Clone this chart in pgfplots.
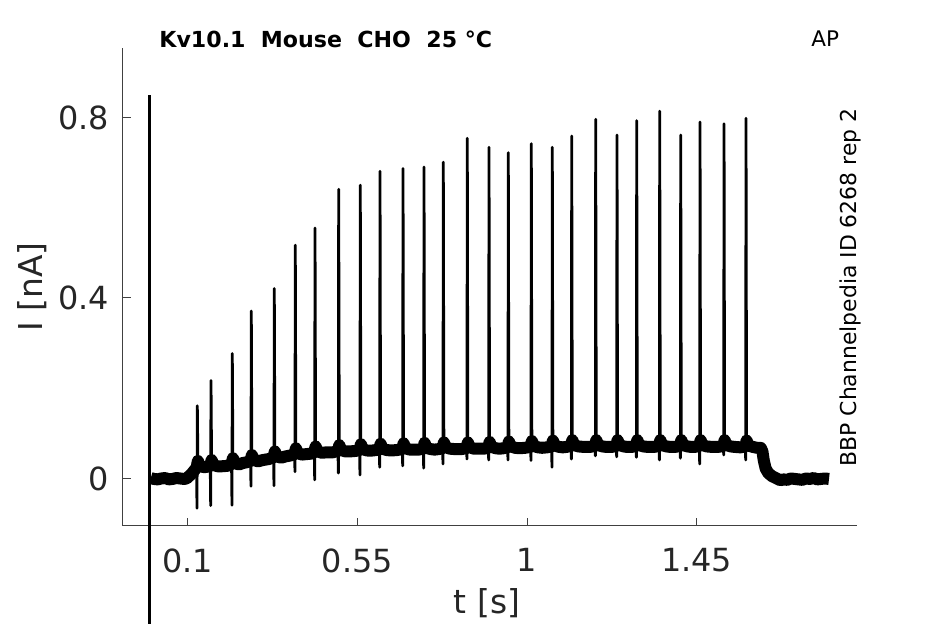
\documentclass[border=0pt]{standalone}
\usepackage{pgfplots}
\pgfplotsset{compat=1.18}
\usepackage{fontspec}
\setmainfont{DejaVu Sans}
\definecolor{axisgray}{HTML}{404040}
\definecolor{ticktext}{HTML}{262626}
\begin{document}
\begin{tikzpicture}
\begin{axis}[
  at={(0,0)}, anchor=south west,
  scale only axis, width=367bp, height=239bp,
  xmin=-0.0724, xmax=1.8745, ymin=-0.1053, ymax=0.954,
  axis x line*=bottom, axis y line*=left,
  axis line style={-, color=axisgray, line width=0.5bp},
  xtick={0.1,0.55,1,1.45}, xticklabels={0.1,0.55,1,1.45},
  ytick={0,0.4,0.8}, yticklabels={0,0.4,0.8},
  tick align=inside, major tick length=4bp,
  tick style={color=axisgray, line width=0.5bp},
  ticklabel style={font=\fontsize{16}{19}\selectfont, text=ticktext, inner sep=0pt},
  xticklabel style={anchor=north, yshift=-11.15bp},
  yticklabel style={anchor=east, xshift=-6.7bp},
  xlabel={t [s]}, ylabel={I [nA]},
  label style={font=\fontsize{16.5}{19}\selectfont, text=ticktext},
  xlabel style={at={(axis description cs:0.4963,-0.1611)}, anchor=center},
  ylabel style={at={(axis description cs:-0.1236,0.5)}, anchor=center},
  clip=false,
]
% stimulus marker line
\addplot[black, line width=1.5bp] coordinates {(0,-0.35) (0,0.85)};
% noisy baseline band
\addplot[black, line width=6bp, line join=round, line cap=butt] coordinates {
(0.002,0.001)(0.01,-0.001)(0.02,-0.002)(0.03,0.0)(0.04,0.001)(0.05,-0.002)(0.06,-0.001)(0.07,0.001)(0.08,0.0)(0.09,-0.001)(0.097,0.0)(0.11,0.010)(0.1235,0.024)
(0.1270,0.039)(0.1305,0.032)(0.1355,0.027)(0.1435,0.025)(0.152,0.026)
(0.1598,0.028)(0.1633,0.041)(0.1668,0.034)(0.1718,0.029)(0.1798,0.027)(0.19,0.027)(0.205,0.028)
(0.2163,0.032)(0.2198,0.045)(0.2233,0.038)(0.2283,0.033)(0.2363,0.031)(0.245,0.034)(0.257,0.036)
(0.2667,0.039)(0.2702,0.052)(0.2737,0.045)(0.2787,0.040)(0.2867,0.038)(0.30,0.041)(0.315,0.043)
(0.3277,0.047)(0.3312,0.060)(0.3347,0.053)(0.3397,0.048)(0.3477,0.046)(0.36,0.049)(0.373,0.051)
(0.3834,0.054)(0.3869,0.067)(0.3904,0.060)(0.3954,0.055)(0.4034,0.053)(0.415,0.054)(0.427,0.055)
(0.4357,0.058)(0.4392,0.071)(0.4427,0.064)(0.4477,0.059)(0.4557,0.057)(0.47,0.058)(0.485,0.058)
(0.4985,0.061)(0.5020,0.074)(0.5055,0.067)(0.5105,0.062)(0.5185,0.060)(0.53,0.060)(0.545,0.061)
(0.5558,0.063)(0.5593,0.076)(0.5628,0.069)(0.5678,0.064)(0.5758,0.062)(0.59,0.062)
(0.6081,0.064)(0.6116,0.077)(0.6151,0.070)(0.6201,0.065)(0.6281,0.063)(0.64,0.062)(0.655,0.063)
(0.6691,0.065)(0.6726,0.078)(0.6761,0.071)(0.6811,0.066)(0.6891,0.064)(0.70,0.064)(0.712,0.064)
(0.7248,0.066)(0.7283,0.079)(0.7318,0.072)(0.7368,0.067)(0.7448,0.065)(0.755,0.064)(0.765,0.065)
(0.7760,0.067)(0.7795,0.080)(0.7830,0.073)(0.7880,0.068)(0.7960,0.066)(0.81,0.065)(0.825,0.065)
(0.8396,0.067)(0.8431,0.080)(0.8466,0.073)(0.8516,0.068)(0.8596,0.066)(0.87,0.066)(0.885,0.066)
(0.8972,0.068)(0.9007,0.081)(0.9042,0.074)(0.9092,0.069)(0.9172,0.067)(0.927,0.066)(0.938,0.067)
(0.9484,0.069)(0.9519,0.082)(0.9554,0.075)(0.9604,0.070)(0.9684,0.068)(0.98,0.067)(0.995,0.068)
(1.0094,0.070)(1.0129,0.083)(1.0164,0.076)(1.0214,0.071)(1.0294,0.069)(1.04,0.068)(1.053,0.069)
(1.0651,0.071)(1.0686,0.084)(1.0721,0.077)(1.0771,0.072)(1.0851,0.070)(1.095,0.069)(1.105,0.070)
(1.1166,0.072)(1.1201,0.085)(1.1236,0.078)(1.1286,0.073)(1.1366,0.071)(1.15,0.070)(1.167,0.070)
(1.1802,0.072)(1.1837,0.085)(1.1872,0.078)(1.1922,0.073)(1.2002,0.071)(1.21,0.070)(1.225,0.070)
(1.2367,0.072)(1.2402,0.085)(1.2437,0.078)(1.2487,0.073)(1.2567,0.071)(1.265,0.070)(1.278,0.070)
(1.2890,0.072)(1.2925,0.085)(1.2960,0.078)(1.3010,0.073)(1.3090,0.071)(1.32,0.070)(1.337,0.070)
(1.3500,0.072)(1.3535,0.085)(1.3570,0.078)(1.3620,0.073)(1.3700,0.071)(1.38,0.070)(1.393,0.070)
(1.4057,0.072)(1.4092,0.085)(1.4127,0.078)(1.4177,0.073)(1.4257,0.071)(1.435,0.070)(1.445,0.070)
(1.4569,0.072)(1.4604,0.085)(1.4639,0.078)(1.4689,0.073)(1.4769,0.071)(1.49,0.070)(1.507,0.070)
(1.5206,0.072)(1.5241,0.085)(1.5276,0.078)(1.5326,0.073)(1.5406,0.071)(1.55,0.070)(1.566,0.069)
(1.5789,0.071)(1.5824,0.084)(1.5859,0.077)(1.5909,0.072)(1.5989,0.070)(1.61,0.068)(1.620,0.068)
(1.6245,0.060)(1.628,0.040)(1.633,0.022)(1.640,0.012)(1.650,0.005)(1.660,0.001)(1.672,-0.004)
(1.68,-0.002)(1.69,-0.003)(1.70,0.0)(1.71,-0.001)(1.72,-0.002)(1.73,-0.003)(1.74,0.0)(1.75,-0.001)(1.76,0.001)(1.77,-0.002)(1.78,-0.001)(1.79,0.0)(1.801,-0.001)
};
% spikes
\addplot[black, line width=1.4bp, line join=round] coordinates {
(0.1235,0.029)(0.1247,-0.066)(0.1255,0.161)(0.1270,0.042)(0.1305,0.032)(0.1355,0.027)
(0.1598,0.031)(0.1610,-0.060)(0.1618,0.217)(0.1633,0.044)(0.1668,0.034)(0.1718,0.029)
(0.2163,0.035)(0.2175,-0.059)(0.2183,0.277)(0.2198,0.048)(0.2233,0.038)(0.2283,0.033)
(0.2667,0.042)(0.2679,-0.017)(0.2687,0.371)(0.2702,0.055)(0.2737,0.045)(0.2787,0.040)
(0.3277,0.050)(0.3289,-0.016)(0.3297,0.421)(0.3312,0.063)(0.3347,0.053)(0.3397,0.048)
(0.3834,0.057)(0.3846,0.015)(0.3854,0.517)(0.3869,0.070)(0.3904,0.060)(0.3954,0.055)
(0.4357,0.061)(0.4369,-0.003)(0.4377,0.555)(0.4392,0.074)(0.4427,0.064)(0.4477,0.059)
(0.4985,0.064)(0.4997,0.012)(0.5005,0.641)(0.5020,0.077)(0.5055,0.067)(0.5105,0.062)
(0.5558,0.066)(0.5570,0.008)(0.5578,0.650)(0.5593,0.079)(0.5628,0.069)(0.5678,0.064)
(0.6081,0.067)(0.6093,0.025)(0.6101,0.681)(0.6116,0.080)(0.6151,0.070)(0.6201,0.065)
(0.6691,0.068)(0.6703,0.028)(0.6711,0.687)(0.6726,0.081)(0.6761,0.071)(0.6811,0.066)
(0.7248,0.069)(0.7260,0.023)(0.7268,0.690)(0.7283,0.082)(0.7318,0.072)(0.7368,0.067)
(0.7760,0.070)(0.7772,0.032)(0.7780,0.701)(0.7795,0.083)(0.7830,0.073)(0.7880,0.068)
(0.8396,0.070)(0.8408,0.043)(0.8416,0.754)(0.8431,0.083)(0.8466,0.073)(0.8516,0.068)
(0.8972,0.071)(0.8984,0.041)(0.8992,0.734)(0.9007,0.084)(0.9042,0.074)(0.9092,0.069)
(0.9484,0.072)(0.9496,0.041)(0.9504,0.722)(0.9519,0.085)(0.9554,0.075)(0.9604,0.070)
(1.0094,0.073)(1.0106,0.040)(1.0114,0.742)(1.0129,0.086)(1.0164,0.076)(1.0214,0.071)
(1.0651,0.074)(1.0663,0.025)(1.0671,0.734)(1.0686,0.087)(1.0721,0.077)(1.0771,0.072)
(1.1166,0.075)(1.1178,0.043)(1.1186,0.759)(1.1201,0.088)(1.1236,0.078)(1.1286,0.073)
(1.1802,0.075)(1.1814,0.050)(1.1822,0.796)(1.1837,0.088)(1.1872,0.078)(1.1922,0.073)
(1.2367,0.075)(1.2379,0.048)(1.2387,0.761)(1.2402,0.088)(1.2437,0.078)(1.2487,0.073)
(1.2890,0.075)(1.2902,0.047)(1.2910,0.793)(1.2925,0.088)(1.2960,0.078)(1.3010,0.073)
(1.3500,0.075)(1.3512,0.041)(1.3520,0.814)(1.3535,0.088)(1.3570,0.078)(1.3620,0.073)
(1.4057,0.075)(1.4069,0.045)(1.4077,0.761)(1.4092,0.088)(1.4127,0.078)(1.4177,0.073)
(1.4569,0.075)(1.4581,0.032)(1.4589,0.790)(1.4604,0.088)(1.4639,0.078)(1.4689,0.073)
(1.5206,0.075)(1.5218,0.052)(1.5226,0.786)(1.5241,0.088)(1.5276,0.078)(1.5326,0.073)
(1.5789,0.074)(1.5801,0.041)(1.5809,0.798)(1.5824,0.087)(1.5859,0.077)(1.5909,0.072)
};
\node[anchor=base west, font=\fontsize{11.1}{13}\selectfont\bfseries, inner sep=0pt]
  at (axis description cs:0.0495,1) {Kv10.1~~Mouse~~CHO~~25~°C};
\node[anchor=base west, font=\fontsize{10.8}{13}\selectfont, inner sep=0pt]
  at (axis description cs:0.9378,1.004) {AP};
\node[anchor=base, rotate=90, font=\fontsize{11}{13}\selectfont, inner sep=0pt]
  at (axis description cs:1.0004,0.499) {BBP Channelpedia ID 6268 rep 2};
\end{axis}
\pgfresetboundingbox
\path[use as bounding box] (-61.35bp,-49bp) rectangle (411.15bp,263bp);
\end{tikzpicture}
\end{document}
